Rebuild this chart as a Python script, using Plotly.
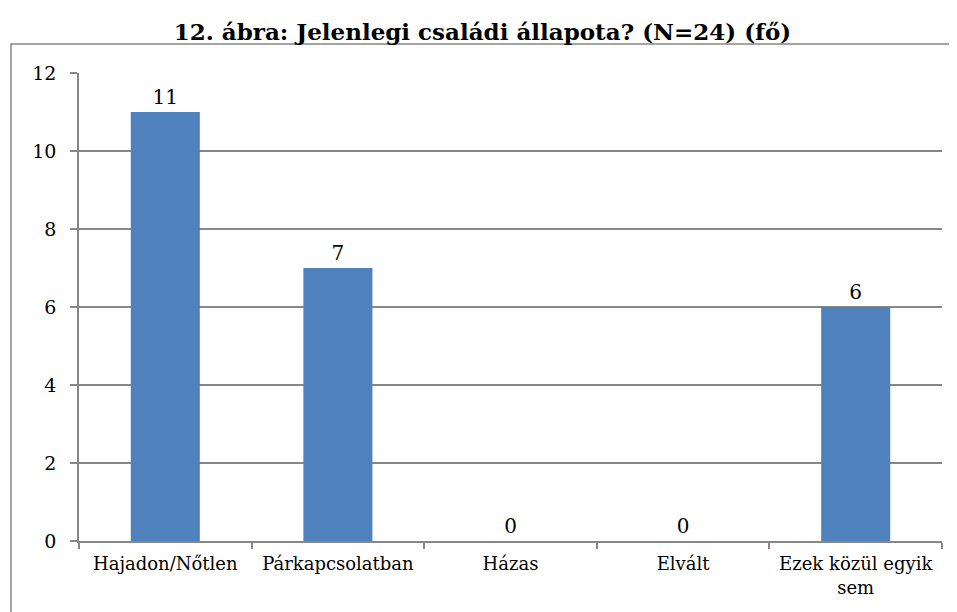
import plotly.graph_objects as go

categories = ["Hajadon/Nőtlen", "Párkapcsolatban", "Házas", "Elvált", "Ezek közül egyik<br>sem"]
values = [11, 7, 0, 0, 6]
y_ticks = [0, 2, 4, 6, 8, 10, 12]

FONT = "Georgia, 'DejaVu Serif', serif"
GRAY = "#878787"

W, H = 949, 604
L, R, T, B = 71, 15, 65, 71
PW, PH = W - L - R, H - T - B

fig = go.Figure(go.Bar(
    x=categories, y=values, width=0.4,
    marker=dict(color="#4F81BD", line=dict(width=0)),
    text=[str(v) for v in values], textposition="outside",
    textfont=dict(family=FONT, size=20, color="#000000"),
    cliponaxis=False,
))

fig.update_layout(
    width=W, height=H,
    margin=dict(l=L, r=R, t=T, b=B),
    paper_bgcolor="white", plot_bgcolor="white",
    showlegend=False,
    title=dict(text="<b>12. ábra: Jelenlegi családi állapota? (N=24) (fő)</b>",
               x=0.5, xanchor="center", y=1 - 24 / H, yanchor="middle",
               font=dict(family=FONT, size=23, color="#000000")),
    xaxis=dict(showline=True, linecolor=GRAY, linewidth=1.5, ticks="outside",
               tickson="boundaries", ticklen=6, tickcolor=GRAY, tickwidth=1.5,
               ticklabelstandoff=6,
               tickfont=dict(family=FONT, size=18, color="#000000"), showgrid=False),
    yaxis=dict(range=[0, 12], tickvals=y_ticks, showline=True, linecolor=GRAY, linewidth=1.5,
               ticks="outside", ticklen=7, tickcolor=GRAY, tickwidth=1.5,
               showgrid=True, gridcolor=GRAY, gridwidth=1.5, zeroline=False,
               ticklabelstandoff=10,
               tickfont=dict(family=FONT, size=19, color="#000000")),
    shapes=[dict(type="rect", xref="paper", yref="paper",
                 x0=(3 - L) / PW, x1=1.1, y0=-0.3, y1=1 + (T - 36) / PH,
                 line=dict(color=GRAY, width=1.5), layer="below")],
)

fig.write_html("out.html")
